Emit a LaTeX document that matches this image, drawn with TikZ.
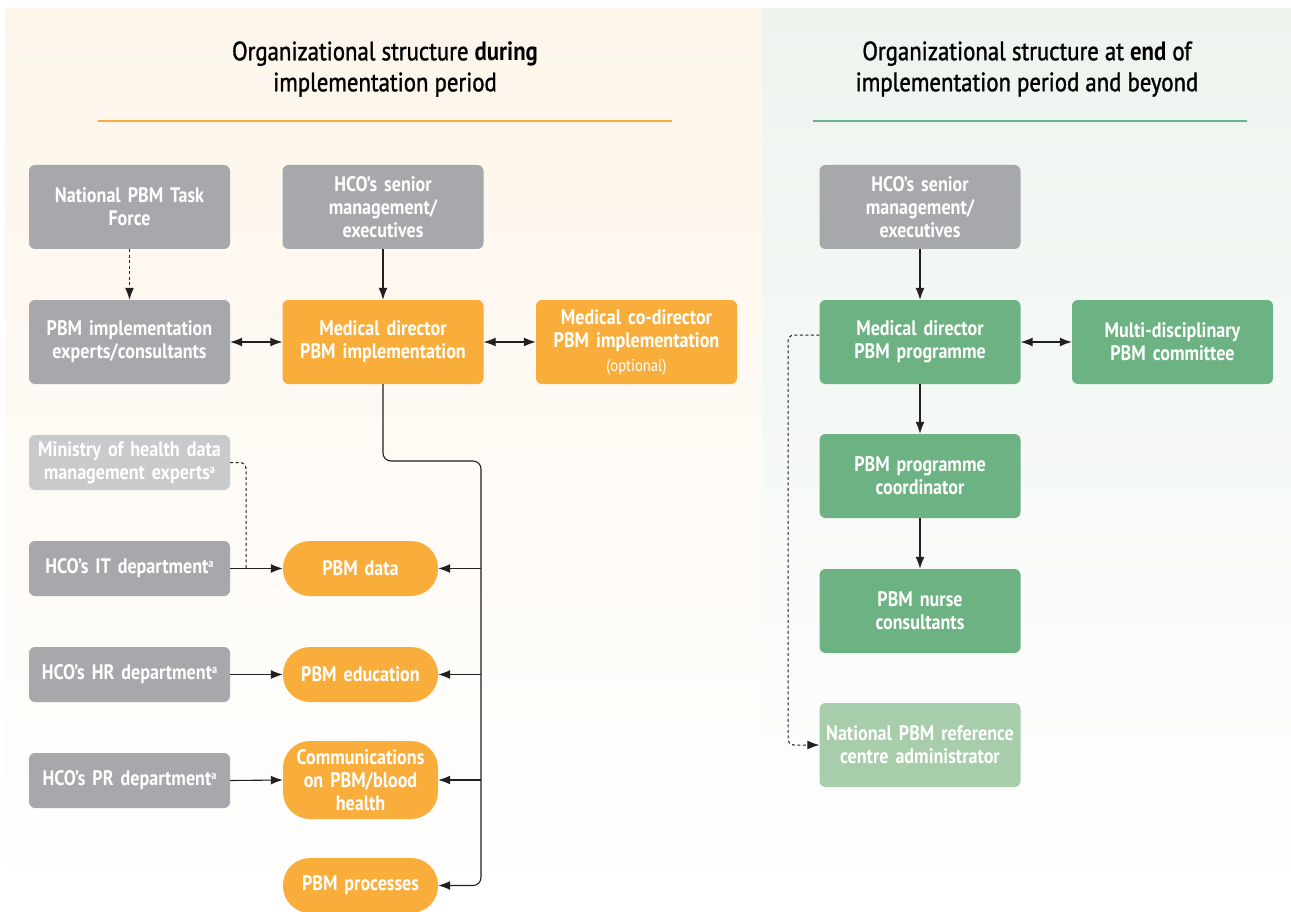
\documentclass[tikz,border=0pt]{standalone}
\usepackage{fontspec}
\setmainfont{PT Sans}[FakeStretch=0.86]
\newfontfamily\headfont{PT Sans}[FakeStretch=0.86, FakeBold=1.3]
\usetikzlibrary{arrows.meta}

\definecolor{creamtop}{HTML}{FDF5EA}
\definecolor{greentop}{HTML}{EDF4EE}
\definecolor{orng}{HTML}{F9AE3C}
\definecolor{gry}{HTML}{A6A8AB}
\definecolor{lgry}{HTML}{C8CACC}
\definecolor{grn}{HTML}{6DB282}
\definecolor{lgrn}{HTML}{A8CDAA}
\definecolor{ink}{HTML}{231F20}

\tikzset{
  box/.style={rectangle, rounded corners=6pt, minimum width=201pt, minimum height=84pt,
    text=white, align=center, text width=195pt, inner sep=0pt,
    font=\bfseries\fontsize{21}{23}\selectfont},
  smallbox/.style={box, minimum height=55pt},
  pill/.style={rectangle, rounded corners=27pt, minimum width=155pt, minimum height=55pt,
    fill=orng, text=white, align=center, text width=152pt, inner sep=0pt,
    font=\bfseries\fontsize{21}{23}\selectfont},
  conn/.style={draw=ink, line width=1.1pt},
  arr/.style={conn, -{Latex[length=12pt,width=9pt]}},
  darr/.style={conn, {Latex[length=12pt,width=9pt]}-{Latex[length=12pt,width=9pt]}},
  dashline/.style={draw=ink, line width=1pt, dash pattern=on 3pt off 2.5pt},
  titletext/.style={align=center, text=black, font=\headfont\fontsize{26.5}{31}\selectfont},
}
\newcommand{\headbold}[1]{{\normalfont\bfseries #1}}
% small raised footnote mark
\newcommand{\fnmark}{\raisebox{6pt}{\fontsize{12}{12}\selectfont a}}

\begin{document}
\begin{tikzpicture}[x=1pt,y=-1pt]
\useasboundingbox (0,0) rectangle (1291,912);
\fill[white] (0,0) rectangle (1291,912);
% panel backgrounds
\shade[top color=creamtop, bottom color=white] (5,9) rectangle (762,912);
\shade[top color=greentop, bottom color=white] (762,9) rectangle (1291,912);

% headings
\node[titletext] (tl) at (385,69) {Organizational structure \headbold{during}\\implementation period};
\node[titletext] (tr) at (1027,69) {Organizational structure at \headbold{end} of\\implementation period and beyond};
\draw[orng, line width=2.5pt] (98,121) -- (672,121);
\draw[grn, line width=2.5pt] (813,121) -- (1247,121);

% left structure
\node[box, fill=gry] (tf) at (129.5,207) {National PBM Task\\Force};
\node[box, fill=gry] (sm) at (383,207) {HCO’s senior\\management/\\executives};
\node[box, fill=gry] (ex) at (129.5,342) {PBM implementation\\experts/consultants};
\node[box, fill=orng] (md) at (383,342) {Medical director\\PBM implementation};
\node[box, fill=orng] (cd) at (636.5,342) {Medical co-director\\PBM implementation\\[1pt]{\mdseries\fontsize{17}{19}\selectfont(optional)}};
\node[smallbox, fill=lgry] (mh) at (129.5,462.5) {Ministry of health data\\management experts\fnmark};
\node[smallbox, fill=gry] (it) at (129.5,568.5) {HCO’s IT department\fnmark};
\node[smallbox, fill=gry] (hr) at (129.5,674.5) {HCO’s HR department\fnmark};
\node[smallbox, fill=gry] (pr) at (129.5,780.5) {HCO’s PR department\fnmark};
\node[pill] (data) at (360.5,568.5) {PBM data};
\node[pill] (edu) at (360.5,674.5) {PBM education};
\node[pill, minimum height=78pt] (com) at (360.5,780) {Communications\\on PBM/blood\\health};
\node[pill] (proc) at (360.5,885.5) {PBM processes};

\draw[dashline, -{Latex[length=12pt,width=9pt]}] (tf.south) -- (ex.north);
\draw[arr] (sm.south) -- (md.north);
\draw[darr] (ex.east) -- (md.west);
\draw[darr] (md.east) -- (cd.west);

% distribution trunk from the medical director
\coordinate (trunk) at (481,461);
\draw[arr, rounded corners=8pt] (md.south) |- (trunk) |- (proc.east);
\draw[arr] (trunk |- data.east) -- (data.east);
\draw[arr] (trunk |- edu.east) -- (edu.east);
\draw[arr] (trunk |- com.east) -- (com.east);

\coordinate (mj) at (246,568.5);
\draw[dashline, rounded corners=6pt] (mh.east) -| (mj);
\draw[arr] (it.east) -- (data.west);
\draw[arr] (hr.east) -- (edu.west);
\draw[arr] (pr.east) -- (com.west);

% right structure
\node[box, fill=gry] (sm2) at (920,207) {HCO’s senior\\management/\\executives};
\node[box, fill=grn] (mdp) at (920,342) {Medical director\\PBM programme};
\node[box, fill=grn] (mc) at (1172.5,342) {Multi-disciplinary\\PBM committee};
\node[box, fill=grn] (co) at (920,476) {PBM programme\\coordinator};
\node[box, fill=grn] (nc) at (920,611) {PBM nurse\\consultants};
\node[box, fill=lgrn] (nr) at (920,745) {National PBM reference\\centre administrator};

\draw[arr] (sm2.south) -- (mdp.north);
\draw[darr] (mdp.east) -- (mc.west);
\draw[arr] (mdp.south) -- (co.north);
\draw[arr] (co.south) -- (nc.north);
\coordinate (dl) at (788,745);
\draw[dashline, rounded corners=6pt, -{Latex[length=12pt,width=9pt]}] ([yshift=7pt]mdp.west) -| (dl) -- (nr.west);
\end{tikzpicture}
\end{document}
